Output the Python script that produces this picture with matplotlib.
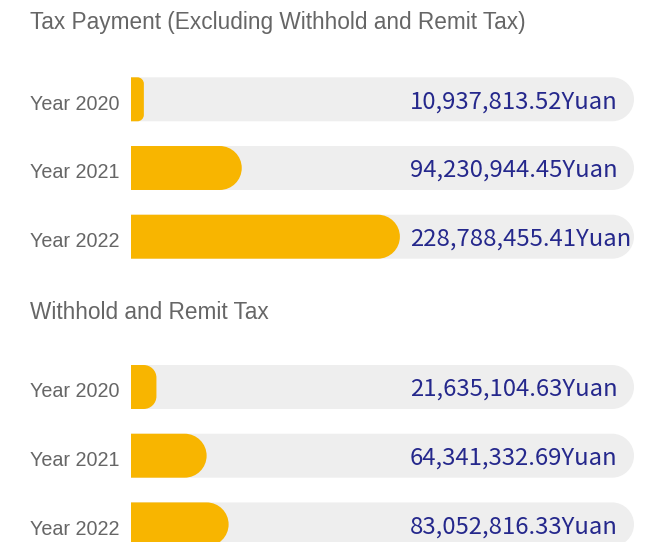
import matplotlib
matplotlib.use("Agg")
import matplotlib.pyplot as plt
import matplotlib.transforms as mtransforms
from matplotlib.path import Path
from matplotlib.patches import PathPatch

# ---- data -------------------------------------------------------------
years = ["Year 2020", "Year 2021", "Year 2022"]
tax_payment = [10937813.52, 94230944.45, 228788455.41]
withhold_remit = [21635104.63, 64341332.69, 83052816.33]
section_titles = ["Tax Payment (Excluding Withhold and Remit Tax)",
                  "Withhold and Remit Tax"]
unit = "Yuan"

# ---- style ------------------------------------------------------------
GOLD = "#F8B500"
TRACK = "#EEEEEE"
NAVY = "#25288C"
GREY = "#666666"
AXIS_MAX = 428e6

W, H, DPI = 671, 542, 100
fig = plt.figure(figsize=(W / DPI, H / DPI), dpi=DPI)
fig.patch.set_facecolor("white")


def right_rounded(ax, x1, yc, h, r_px):
    """Path of a bar from 0 to x1 centred on yc, rounded on its right end."""
    pos = ax.get_position()
    x_scale = pos.width * W / (ax.get_xlim()[1] - ax.get_xlim()[0])
    y_scale = pos.height * H / abs(ax.get_ylim()[0] - ax.get_ylim()[1])
    w_px = x1 * x_scale
    r = min(r_px, w_px / 2.0, h * y_scale / 2.0)
    rx, ry = r / x_scale, r / y_scale
    y0, y1 = yc - h / 2, yc + h / 2
    k = 0.5523
    verts = [
        (0, y0), (x1 - rx, y0),
        (x1 - rx + k * rx, y0), (x1, y0 + ry - k * ry), (x1, y0 + ry),
        (x1, y1 - ry),
        (x1, y1 - ry + k * ry), (x1 - rx + k * rx, y1), (x1 - rx, y1),
        (0, y1), (0, y0),
    ]
    codes = [Path.MOVETO, Path.LINETO,
             Path.CURVE4, Path.CURVE4, Path.CURVE4,
             Path.LINETO,
             Path.CURVE4, Path.CURVE4, Path.CURVE4,
             Path.LINETO, Path.CLOSEPOLY]
    return Path(verts, codes)


def draw_section(rect, values, title, title_y_px):
    ax = fig.add_axes(rect)
    ax.set_xlim(0, AXIS_MAX)
    ax.set_ylim(len(values) - 0.5, -0.5)
    for s in ax.spines.values():
        s.set_visible(False)
    ax.set_xticks([])
    ax.set_yticks(range(len(years)))
    ax.set_yticklabels(years, family="Liberation Sans", fontsize=14.2,
                       color=GREY)
    ax.tick_params(axis="y", length=0, pad=8.4)
    # nudge the year labels a little below the bar centre line
    shift = mtransforms.ScaledTranslation(0, -2 / 72, fig.dpi_scale_trans)
    for lbl in ax.get_yticklabels():
        lbl.set_transform(lbl.get_transform() + shift)
    ax.set_facecolor("none")

    bar_h = 0.64
    for i, v in enumerate(values):
        ax.add_patch(PathPatch(right_rounded(ax, AXIS_MAX, i, bar_h, 22),
                               facecolor=TRACK, edgecolor="none", zorder=1))
        ax.add_patch(PathPatch(right_rounded(ax, v, i, bar_h, 22),
                               facecolor=GOLD, edgecolor="none", zorder=2))
        ax.text(0.5547, i, f"{v:,.2f}{unit}", transform=ax.get_yaxis_transform(),
                ha="left", va="center_baseline", fontsize=17.2,
                family=["Noto Sans CJK SC", "DejaVu Sans"], color=NAVY,
                zorder=3)

    fig.text(30 / W, 1 - title_y_px / H, title, ha="left", va="center",
             family="Liberation Sans", fontsize=16.3, color=GREY)
    return ax


row_px = 68.7
left = 131 / W
width = 503 / W
height = 3 * row_px / H
# first row centre of each section, in pixels from the top
first_row = [99.3, 387.0]
title_rows = [22, 312.5]
for vals, title, r0, ty in zip([tax_payment, withhold_remit], section_titles,
                               first_row, title_rows):
    bottom_px = r0 - row_px / 2 + 3 * row_px
    draw_section([left, (H - bottom_px) / H, width, height], vals, title, ty)

fig.savefig("out.png", dpi=DPI, facecolor="white")
